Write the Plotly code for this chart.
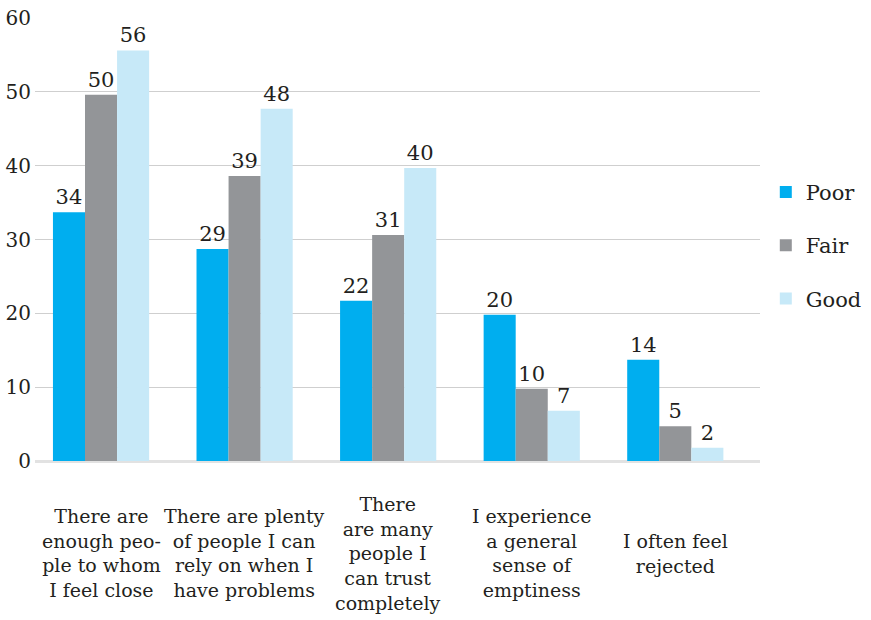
import plotly.graph_objects as go

# Survey statements (x categories) and share of respondents (%) by self-rated health
categories = [
    "There are<br>enough peo-<br>ple to whom<br>I feel close",
    "There are plenty<br>of people I can<br>rely on when I<br>have problems",
    "There<br>are many<br>people I<br>can trust<br>completely",
    "I experience<br>a general<br>sense of<br>emptiness",
    "I often feel<br>rejected",
]
poor = [33.7, 28.7, 21.7, 19.8, 13.7]
fair = [49.6, 38.6, 30.6, 9.8, 4.7]
good = [55.6, 47.7, 39.7, 6.8, 1.8]
series_names = ["Poor", "Fair", "Good"]
y_ticks = [0, 10, 20, 30, 40, 50, 60]

colors = ["#00AEEF", "#939598", "#C7E9F8"]
FONT = "DejaVu Serif"
x_idx = list(range(len(categories)))

fig = go.Figure()
for i, (name, vals) in enumerate(zip(series_names, [poor, fair, good])):
    fig.add_trace(go.Bar(
        x=x_idx, y=vals, name=name,
        marker=dict(color=colors[i], line=dict(width=0)),
        text=vals, texttemplate="%{y:.0f}", textposition="outside",
        textfont=dict(family=FONT, size=21, color="#231f20"),
        cliponaxis=False, legendgroup=name,
    ))

# Category labels, vertically centred under each group
for xi, label in zip(x_idx, categories):
    fig.add_annotation(
        x=xi, y=-0.208, xref="x", yref="paper", text=label, showarrow=False,
        xanchor="center", yanchor="middle", align="center",
        font=dict(family=FONT, size=19, color="#231f20"),
    )

fig.update_layout(
    width=871, height=620,
    margin=dict(l=35, r=111, t=18, b=159, autoexpand=False),
    plot_bgcolor="white", paper_bgcolor="white",
    barmode="group", bargap=0.33, bargroupgap=0,
    font=dict(family=FONT, color="#231f20"),
    legend=dict(
        x=1.008, xanchor="left", y=0.487, yanchor="middle",
        font=dict(family=FONT, size=21, color="#231f20"),
        tracegroupgap=23, itemwidth=30,
    ),
    xaxis=dict(
        range=[-0.46, 4.59], showticklabels=False, showgrid=False,
        zeroline=False, showline=False, ticks="",
    ),
    yaxis=dict(
        range=[0, 60], tickvals=y_ticks, showgrid=True, gridcolor="#cfcfcf",
        gridwidth=1, zeroline=True, zerolinecolor="#e2e2e2", zerolinewidth=3,
        showline=False, ticks="", ticklabelstandoff=3,
        tickfont=dict(family=FONT, size=20, color="#231f20"),
    ),
)

fig.write_html("out.html")
